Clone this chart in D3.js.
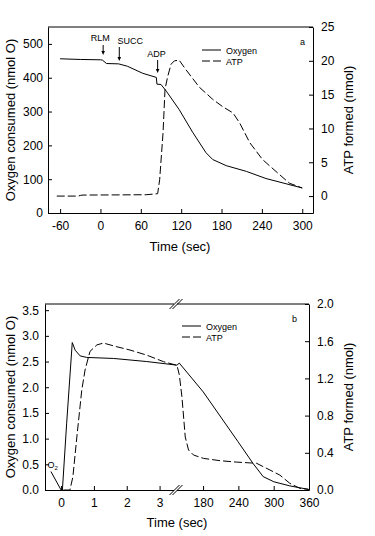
<!DOCTYPE html>
<html>
<head>
<meta charset="utf-8">
<script src="https://cdn.jsdelivr.net/npm/d3@7"></script>
<style>
  body { margin: 0; background: #fff; }
  svg { font-family: "Liberation Sans", Arial, sans-serif; }
  .axis text { font-size: 12px; fill: #000; }
  .axis path, .axis line { stroke: #000; }
</style>
</head>
<body>
<div id="viz"></div>
<script>
// panel a: time course after RLM / SUCC / ADP additions
const timeA_O2 = [-60, -30, 0, 3, 9, 27, 40, 63, 83, 84, 90, 98, 117, 137, 157, 167, 187, 217, 246, 300];
const oxygenA = [456, 454, 453, 452, 442, 441, 434, 413, 401, 381, 380, 360, 306, 239, 178, 158, 140, 123, 102, 74];
const timeA_ATP = [-65, -33, -30, -26, 68, 85, 88, 93, 96, 100, 105, 110, 117, 127, 147, 167, 182, 197, 207, 222, 241, 266, 281, 300];
const atpA = [0, 0, 0.1, 0.15, 0.2, 0.35, 2.4, 9.3, 15.8, 17.7, 19.5, 20.0, 20.1, 18.7, 16.1, 14.3, 13.2, 12.3, 10.8, 7.9, 5.4, 3.2, 1.9, 1.2];
const ticksA_x = [-60, 0, 60, 120, 180, 240, 300];
const ticksA_left = [0, 100, 200, 300, 400, 500];
const ticksA_right = [0, 5, 10, 15, 20, 25];
const arrowsA = [
  { label: "RLM", t: 4, top: 45, bottom: 55, labelDx: -3, labelY: 41 },
  { label: "SUCC", t: 28, top: 47, bottom: 61, labelDx: 11, labelY: 44 },
  { label: "ADP", t: 85, top: 60, bottom: 73, labelDx: -1, labelY: 57 }
];

// panel b: broken time axis (0-3.5 s, then 134-360 s)
const timeB_O2 = [0.04, 0.17, 0.34, 0.43, 0.58, 0.78, 1.6, 2.61, 3.53, 139.6, 180.2, 239.4, 265.3, 282.2, 300.3, 327.4, 360];
const oxygenB = [0, 1.30, 2.87, 2.72, 2.61, 2.58, 2.56, 2.50, 2.43, 2.47, 1.91, 0.94, 0.51, 0.26, 0.16, 0.08, 0.01];
const timeB_ATP = [0.07, 0.27, 0.36, 0.48, 0.63, 0.73, 0.88, 1.09, 1.29, 1.7, 2.1, 2.61, 3.12, 3.53, 139.6, 144.1, 149.7, 155.3, 163.8, 180.7, 209, 237, 271, 293.6, 310.5, 327.4, 344.3, 358.4];
const atpB = [0, 0, 0.143, 0.57, 1.075, 1.29, 1.49, 1.56, 1.58, 1.54, 1.505, 1.45, 1.38, 1.34, 1.24, 1.0, 0.57, 0.43, 0.376, 0.34, 0.315, 0.30, 0.287, 0.215, 0.16, 0.072, 0.018, 0.008];
const ticksB_xLeft = [0, 1, 2, 3];
const ticksB_xRight = [180, 240, 300, 360];
const ticksB_left = [0, 0.5, 1, 1.5, 2, 2.5, 3, 3.5];
const ticksB_right = [0, 0.4, 0.8, 1.2, 1.6, 2.0];

const W = 375, H = 536;
const svg = d3.select("#viz").append("svg")
  .attr("width", W).attr("height", H);

const plain = d => String(d);   // hyphen minus like the original, not U+2212

function drawLine(g, xs, ys, xf, yf, dashed) {
  const line = d3.line().x(d => xf(d[0])).y(d => yf(d[1]));
  g.append("path")
    .datum(xs.map((t, i) => [t, ys[i]]))
    .attr("d", line)
    .attr("fill", "none")
    .attr("stroke", "#000")
    .attr("stroke-width", 1)
    .attr("stroke-dasharray", dashed ? "8,3" : null);
}

function legend(g, x, y) {
  [["Oxygen", null], ["ATP", "8,3"]].forEach((d, i) => {
    const yy = y + i * 11;
    g.append("line")
      .attr("x1", x).attr("x2", x + 19)
      .attr("y1", yy).attr("y2", yy)
      .attr("stroke", "#000")
      .attr("stroke-dasharray", d[1]);
    g.append("text")
      .attr("x", x + 24).attr("y", yy + 3.5)
      .style("font-size", "9px")
      .text(d[0]);
  });
}

function yTitles(g, left, right, cy) {
  g.append("text")
    .attr("transform", `translate(${left},${cy}) rotate(-90)`)
    .attr("text-anchor", "middle")
    .attr("dy", "0.35em")
    .style("font-size", "13px")
    .text("Oxygen consumed (nmol O)");
  g.append("text")
    .attr("transform", `translate(${right},${cy}) rotate(-90)`)
    .attr("text-anchor", "middle")
    .attr("dy", "0.35em")
    .style("font-size", "13px")
    .text("ATP formed (nmol)");
}

// ---------- panel a ----------
const a = { left: 48, right: 313, top: 27, bottom: 213 };
const xA = d3.scaleLinear().domain([-78, 316]).range([a.left, a.right]);
const yA = d3.scaleLinear().domain([0, 550]).range([a.bottom, a.top]);
const yA2 = d3.scaleLinear().domain([-2.5, 25]).range([a.bottom, a.top]);
const gA = svg.append("g");

gA.append("line")
  .attr("x1", a.left).attr("x2", a.right)
  .attr("y1", a.top).attr("y2", a.top)
  .attr("stroke", "#000");

gA.append("g").attr("class", "axis")
  .attr("transform", `translate(0,${a.bottom})`)
  .call(d3.axisBottom(xA).tickValues(ticksA_x).tickFormat(plain).tickSizeInner(-4).tickSizeOuter(0).tickPadding(8));
gA.append("g").attr("class", "axis")
  .attr("transform", `translate(${a.left},0)`)
  .call(d3.axisLeft(yA).tickValues(ticksA_left).tickFormat(plain).tickSizeInner(-4).tickSizeOuter(0).tickPadding(5));
gA.append("g").attr("class", "axis")
  .attr("transform", `translate(${a.right},0)`)
  .call(d3.axisRight(yA2).tickValues(ticksA_right).tickFormat(plain).tickSizeInner(-4).tickSizeOuter(0).tickPadding(8));

drawLine(gA, timeA_O2, oxygenA, xA, yA, false);
drawLine(gA, timeA_ATP, atpA, xA, yA2, true);

arrowsA.forEach(d => {
  const x = xA(d.t);
  gA.append("line")
    .attr("x1", x).attr("x2", x)
    .attr("y1", d.top).attr("y2", d.bottom - 3)
    .attr("stroke", "#000");
  gA.append("path")
    .attr("d", `M${x - 1.8},${d.bottom - 4}L${x + 1.8},${d.bottom - 4}L${x},${d.bottom}Z`)
    .attr("fill", "#000");
  gA.append("text")
    .attr("x", x + d.labelDx).attr("y", d.labelY)
    .attr("text-anchor", "middle")
    .style("font-size", "9px")
    .text(d.label);
});

legend(gA, 202, 50);
gA.append("text").attr("x", 300).attr("y", 45).style("font-size", "9px").text("a");

gA.append("text")
  .attr("x", 180).attr("y", 251)
  .attr("text-anchor", "middle")
  .style("font-size", "13px")
  .text("Time (sec)");
yTitles(gA, 10, 348, 120);

// ---------- panel b ----------
const b = { left: 45, right: 309, top: 304, bottom: 490, brk: 176 };
const xB1 = d3.scaleLinear().domain([-0.49, 3.5]).range([b.left, b.brk]);
const xB2 = d3.scaleLinear().domain([134, 360]).range([b.brk, b.right]);
const xB = t => t < 100 ? xB1(t) : xB2(t);
const yB = d3.scaleLinear().domain([0, 3.62]).range([b.bottom, b.top]);
const yB2 = d3.scaleLinear().domain([0, 2]).range([b.bottom, b.top]);
const gB = svg.append("g");

gB.append("line")
  .attr("x1", b.left).attr("x2", b.right)
  .attr("y1", b.top).attr("y2", b.top)
  .attr("stroke", "#000");

gB.append("g").attr("class", "axis")
  .attr("transform", `translate(0,${b.bottom})`)
  .call(d3.axisBottom(xB1).tickValues(ticksB_xLeft).tickFormat(plain).tickSizeInner(-4).tickSizeOuter(0).tickPadding(8));
gB.append("g").attr("class", "axis")
  .attr("transform", `translate(0,${b.bottom})`)
  .call(d3.axisBottom(xB2).tickValues(ticksB_xRight).tickFormat(plain).tickSizeInner(-4).tickSizeOuter(0).tickPadding(8));
gB.append("g").attr("class", "axis")
  .attr("transform", `translate(${b.left},0)`)
  .call(d3.axisLeft(yB).tickValues(ticksB_left).tickFormat(d3.format(".1f")).tickSizeInner(-4).tickSizeOuter(0).tickPadding(6));
gB.append("g").attr("class", "axis")
  .attr("transform", `translate(${b.right},0)`)
  .call(d3.axisRight(yB2).tickValues(ticksB_right).tickFormat(d3.format(".1f")).tickSizeInner(-4).tickSizeOuter(0).tickPadding(8));

// axis break marks
[b.top, b.bottom].forEach(y => {
  gB.append("rect")
    .attr("x", b.brk - 2).attr("y", y - 1).attr("width", 3).attr("height", 2)
    .attr("fill", "#fff");
  [-1.5, 1.5].forEach(o => {
    gB.append("line")
      .attr("x1", b.brk + o - 5).attr("y1", y + 5)
      .attr("x2", b.brk + o + 5).attr("y2", y - 5)
      .attr("stroke", "#000");
  });
});

drawLine(gB, timeB_O2, oxygenB, xB, yB, false);
drawLine(gB, timeB_ATP, atpB, xB, yB2, true);

// O2 addition marker
gB.append("line")
  .attr("x1", xB(-0.31)).attr("y1", yB(0.36))
  .attr("x2", xB(0)).attr("y2", yB(0))
  .attr("stroke", "#000");
const o2 = gB.append("text").attr("x", 47.5).attr("y", 468).style("font-size", "9px");
o2.append("tspan").text("O");
o2.append("tspan").attr("dy", 2).style("font-size", "6px").text("2");

legend(gB, 182, 326);
gB.append("text").attr("x", 292).attr("y", 322).style("font-size", "9px").text("b");

gB.append("text")
  .attr("x", 177).attr("y", 527)
  .attr("text-anchor", "middle")
  .style("font-size", "13px")
  .text("Time (sec)");
yTitles(gB, 10, 348, 397);
</script>
</body>
</html>
